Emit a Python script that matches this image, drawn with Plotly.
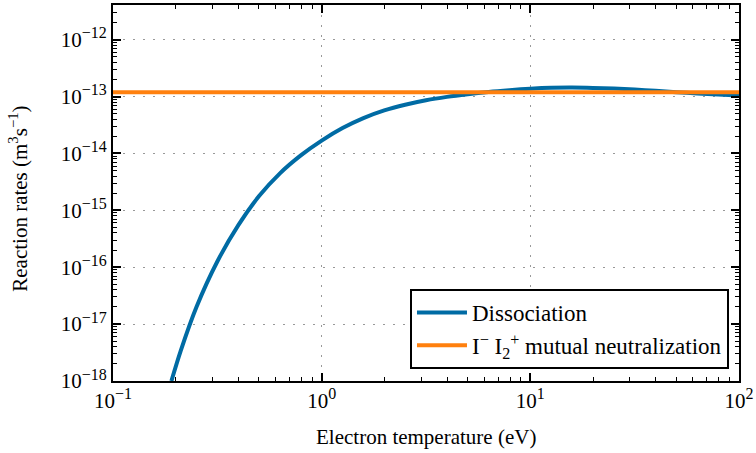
import plotly.graph_objects as go

# Electron temperature (eV) and log10 of the dissociation rate (m^3/s)
te_diss = [0.1905, 0.2109, 0.2512, 0.3162, 0.3981, 0.5012, 0.6310, 0.7943, 1.0, 1.259,
           1.585, 1.995, 2.512, 3.162, 3.981, 5.012, 6.310, 7.943, 10.0, 12.59,
           15.85, 19.95, 25.12, 31.62, 39.81, 50.12, 63.10, 79.43, 100.0]
log_k_diss = [-18.0, -17.474, -16.699, -15.899, -15.264, -14.749, -14.349, -14.034, -13.774, -13.554,
              -13.379, -13.244, -13.144, -13.065, -13.005, -12.958, -12.918, -12.887, -12.862, -12.846,
              -12.842, -12.848, -12.860, -12.877, -12.898, -12.922, -12.944, -12.963, -12.98]
k_diss = [10 ** v for v in log_k_diss]

# I- I2+ mutual neutralization: constant rate
te_mn = [0.1, 100.0]
k_mn = [1.19e-13, 1.19e-13]

x_decades = [-1, 0, 1, 2]
y_decades = [-18, -17, -16, -15, -14, -13, -12]

FONT = "Liberation Serif"
TXT = 21
TICK = 21
EXP = 16
LEG = 23


def dec_label(e):
    s = str(e).replace("-", "−")
    return f"10<sup><span style='font-size:{EXP}px'>{s}</span></sup>"


x_tickvals = [10.0 ** e for e in x_decades]
x_ticktext = [dec_label(e) for e in x_decades]
y_tickvals = [10.0 ** e for e in y_decades]
y_ticktext = [dec_label(e) for e in y_decades]

x_minor = [m * 10.0 ** e for e in range(-1, 2) for m in range(2, 10)]
y_minor = [m * 10.0 ** e for e in range(-18, -11) for m in range(2, 10)]

fig = go.Figure()
fig.add_trace(go.Scatter(x=te_diss, y=k_diss, mode="lines", name="Dissociation",
                         line=dict(color="#006BA4", width=4, shape="spline", smoothing=0.8)))
fig.add_trace(go.Scatter(x=te_mn, y=k_mn, mode="lines",
                         name="I<sup>−</sup> I<sub>2</sub><sup>+</sup> mutual neutralization",
                         line=dict(color="#FF800E", width=4)))

axis_common = dict(
    showline=True, linecolor="black", linewidth=2, mirror="allticks",
    ticks="inside", ticklen=8, tickwidth=1.5, tickcolor="black",
    showgrid=True, gridcolor="#999999", griddash="2px,8px", gridwidth=1.2,
    zeroline=False, automargin=False,
    tickfont=dict(family=FONT, size=TICK, color="black"),
)

fig.update_xaxes(type="log", range=[-1, 2], tickvals=x_tickvals, ticktext=x_ticktext,
                 minor=dict(tickmode="array", tickvals=x_minor, ticks="inside", ticklen=4,
                            tickwidth=1, tickcolor="black", showgrid=False),
                 **axis_common)
fig.update_yaxes(type="log", range=[-18, -11.39], tickvals=y_tickvals, ticktext=y_ticktext,
                 minor=dict(tickmode="array", tickvals=y_minor, ticks="inside", ticklen=4,
                            tickwidth=1, tickcolor="black", showgrid=False),
                 **axis_common)

fig.add_annotation(text="Electron temperature (eV)", xref="paper", yref="paper",
                   x=0.5, y=-0.149, xanchor="center", yanchor="middle", showarrow=False,
                   font=dict(family=FONT, size=TXT, color="black"))
fig.add_annotation(text="Reaction rates (m<sup>3</sup>s<sup>−1</sup>)", xref="paper", yref="paper",
                   x=-0.15, y=0.485, xanchor="center", yanchor="middle", textangle=-90, showarrow=False,
                   font=dict(family=FONT, size=TXT, color="black"))

fig.update_layout(
    width=756, height=453,
    margin=dict(l=113, r=17, t=5, b=72, autoexpand=False),
    paper_bgcolor="white", plot_bgcolor="white",
    font=dict(family=FONT, size=TXT, color="black"),
    legend=dict(x=0.984, y=0.032, xanchor="right", yanchor="bottom",
                bordercolor="black", borderwidth=2, bgcolor="white",
                font=dict(family=FONT, size=LEG, color="black"),
                itemwidth=50, tracegroupgap=0),
    showlegend=True,
)

fig.write_html("out.html", config={"displayModeBar": False},
               post_script="document.body.style.margin='0';")
